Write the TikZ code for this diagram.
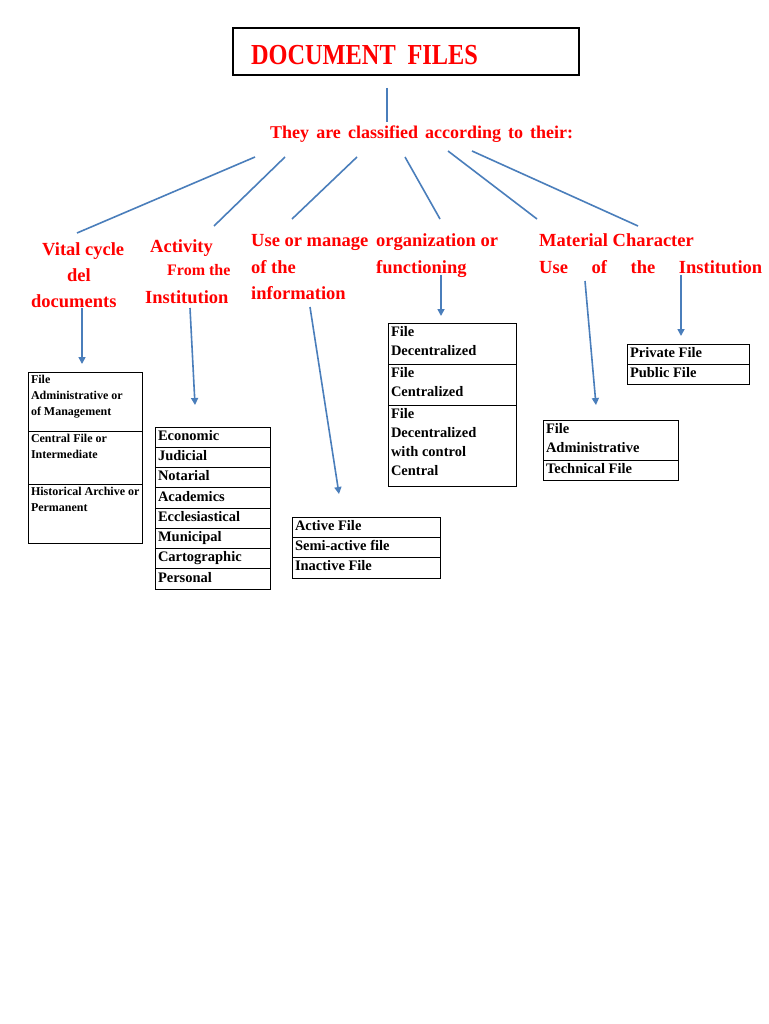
\documentclass[tikz,border=0pt]{standalone}
\usepackage{fontspec}
\setmainfont{Liberation Serif}
\usepackage{graphicx}
\usetikzlibrary{arrows.meta}

\definecolor{textred}{RGB}{255,0,0}
\definecolor{lineblue}{RGB}{74,126,187}

\newcommand{\celltext}[3]{\parbox[t][#2][t]{#1}{\strut#3}}
\newcommand{\catlines}[1]{\parbox[t]{225pt}{\strut#1}}

\begin{document}
\begin{tikzpicture}[x=1pt, y=-1pt]
  \path[use as bounding box, fill=white] (0,0) rectangle (768,1024);  % page
  \tikzstyle{cat}=[anchor=base west, inner sep=0pt, text=textred, font=\fontsize{18.5}{26}\selectfont\bfseries]
  \tikzstyle{cell}=[draw, line width=0.8pt, anchor=north west, inner xsep=3pt, inner ysep=0pt, outer sep=0pt, font=\fontsize{14.5}{19}\selectfont\bfseries]
  \tikzstyle{smallcell}=[cell, font=\fontsize{12}{16}\selectfont\bfseries]
  \tikzstyle{fan}=[draw=lineblue, line width=1.6pt]
  \tikzstyle{arr}=[fan, -{Triangle[length=7pt, width=7pt]}]

  % title and subtitle
  \node[draw, line width=2pt, anchor=north west, minimum height=47pt, text width=310pt, inner xsep=18pt,
        align=left, text height=27pt, text depth=0pt, text=textred, font=\fontsize{29}{30}\selectfont\bfseries]
        (title) at (232,27) {\scalebox{0.84}[1]{DOCUMENT\hspace{14pt}FILES}};
  \node[anchor=base west, inner sep=0pt, text=textred, font=\fontsize{18}{22}\selectfont\bfseries]
        (classified) at (270,139) {\makebox[303pt][s]{They are classified according to their:}};

  % categories
  \node[cat] (vital) at (31,255) {\catlines{\hspace*{11pt}Vital cycle\\\hspace*{36pt}del\\documents}};
  \node[cat] (activity) at (145,252) {\fontsize{18.5}{23.5}\selectfont
        \catlines{\hspace*{5pt}Activity\\\hspace*{22pt}{\fontsize{16}{23.5}\selectfont From the}\\[4pt]Institution}};
  \node[cat] (usage) at (251,247) {\catlines{Use or manage\\of the\\information}};
  \node[cat] (organization) at (376,247) {\catlines{organization or\\functioning}};
  \node[cat] (material) at (539,247) {\catlines{Material Character\\\makebox[223pt][s]{Use of the Institution}}};

  % stem and fan
  \coordinate (stem top) at (387,88);
  \coordinate (stem end) at (387,122);
  \coordinate (fan1) at (255,157);   \coordinate (vital top) at (77,233);
  \coordinate (fan2) at (285,157);   \coordinate (activity top) at (214,226);
  \coordinate (fan3) at (357,157);   \coordinate (usage top) at (292,219);
  \coordinate (fan4) at (405,157);   \coordinate (organization top) at (440,219);
  \coordinate (fan5) at (448,151);   \coordinate (material top) at (537,219);
  \coordinate (fan6) at (472,151);   \coordinate (character top) at (638,226);

  \path[fan] (stem top) edge (stem end);
  \path[fan] (fan1) edge (vital top);
  \path[fan] (fan2) edge (activity top);
  \path[fan] (fan3) edge (usage top);
  \path[fan] (fan4) edge (organization top);
  \path[fan] (fan5) edge (material top);
  \path[fan] (fan6) edge (character top);

  % arrows down to the lists
  \coordinate (vital foot) at (82,308);          \coordinate (vital tip) at (82,364);
  \coordinate (activity foot) at (190,308);      \coordinate (activity tip) at (195,405);
  \coordinate (usage foot) at (310,307);         \coordinate (usage tip) at (339,494);
  \coordinate (organization foot) at (441,275);  \coordinate (organization tip) at (441,316);
  \coordinate (material foot) at (585,281);      \coordinate (material tip) at (596,405);
  \coordinate (institution foot) at (681,275);   \coordinate (institution tip) at (681,336);

  \draw[arr] (vital foot) -- (vital tip);
  \draw[arr] (activity foot) -- (activity tip);
  \draw[arr] (usage foot) -- (usage tip);
  \draw[arr] (organization foot) -- (organization tip);
  \draw[arr] (material foot) -- (material tip);
  \draw[arr] (institution foot) -- (institution tip);

  % vital cycle
  \node[smallcell] (a1) at (28,372) {\celltext{108pt}{59pt}{File\\Administrative or\\of Management}};
  \node[smallcell] (a2) at (28,431) {\celltext{108pt}{53pt}{Central File or\\Intermediate}};
  \node[smallcell] (a3) at (28,484) {\celltext{108pt}{59pt}{\mbox{Historical Archive or}\\Permanent}};

  % activity
  \node[cell] (b1) at (155,427)    {\celltext{109pt}{20.25pt}{Economic}};
  \node[cell] (b2) at (155,447.25) {\celltext{109pt}{20.25pt}{Judicial}};
  \node[cell] (b3) at (155,467.5)  {\celltext{109pt}{20.25pt}{Notarial}};
  \node[cell] (b4) at (155,487.75) {\celltext{109pt}{20.25pt}{Academics}};
  \node[cell] (b5) at (155,508)    {\celltext{109pt}{20.25pt}{Ecclesiastical}};
  \node[cell] (b6) at (155,528.25) {\celltext{109pt}{20.25pt}{Municipal}};
  \node[cell] (b7) at (155,548.5)  {\celltext{109pt}{20.25pt}{Cartographic}};
  \node[cell] (b8) at (155,568.75) {\celltext{109pt}{20.25pt}{Personal}};

  % use of the information
  \node[cell] (c1) at (292,517)    {\celltext{142pt}{20.33pt}{Active File}};
  \node[cell] (c2) at (292,537.33) {\celltext{142pt}{20.33pt}{Semi-active file}};
  \node[cell] (c3) at (292,557.67) {\celltext{142pt}{20.33pt}{Inactive File}};

  % organization
  \node[cell] (d1) at (388,323) {\celltext{122pt}{41pt}{File\\Decentralized}};
  \node[cell] (d2) at (388,364) {\celltext{122pt}{41pt}{File\\Centralized}};
  \node[cell] (d3) at (388,405) {\celltext{122pt}{81pt}{File\\Decentralized\\with control\\Central}};

  % material character
  \node[cell] (e1) at (543,420) {\celltext{129pt}{40pt}{File\\Administrative}};
  \node[cell] (e2) at (543,460) {\celltext{129pt}{20pt}{Technical File}};

  % institution
  \node[cell] (f1) at (627,344) {\celltext{116pt}{20pt}{Private File}};
  \node[cell] (f2) at (627,364) {\celltext{116pt}{20pt}{Public File}};
\end{tikzpicture}
\end{document}
